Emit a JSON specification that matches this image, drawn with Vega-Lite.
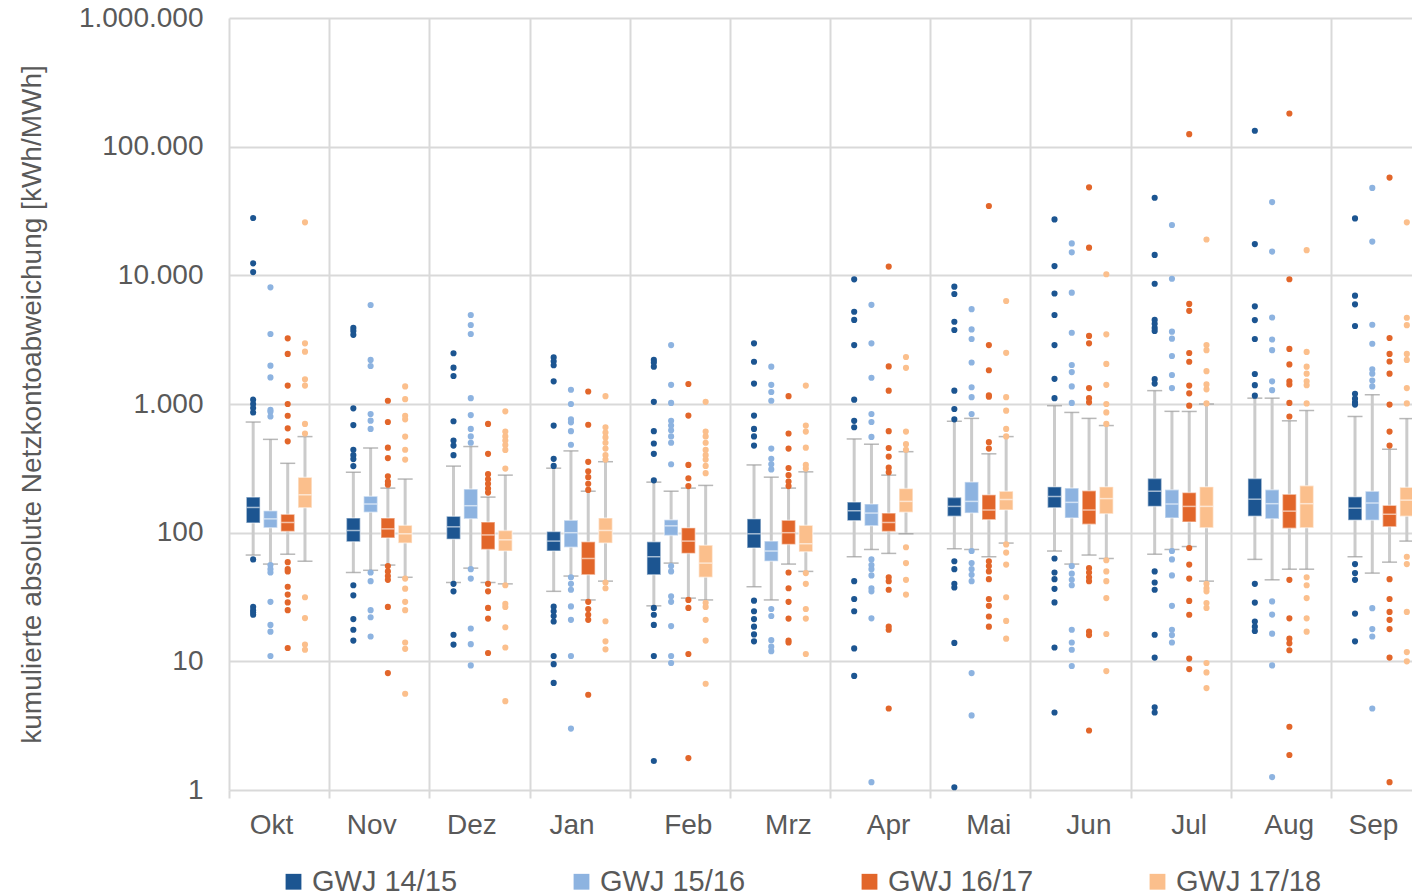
{
  "$schema": "https://vega.github.io/schema/vega-lite/v6.json",
  "autosize": {"type": "none"},
  "padding": {"left": 229, "top": 18, "right": 0, "bottom": 106},
  "width": 1183,
  "height": 772,
  "config": {"font": "Liberation Sans", "view": {"stroke": null}},
  "datasets": {
    "boxes": [
      {"Monat":"Okt","GWJ":"GWJ 14/15","lo":67,"q1":119,"med":157,"q3":189,"hi":724},
      {"Monat":"Okt","GWJ":"GWJ 15/16","lo":57,"q1":109,"med":128,"q3":148,"hi":531},
      {"Monat":"Okt","GWJ":"GWJ 16/17","lo":68,"q1":102,"med":120,"q3":139,"hi":346},
      {"Monat":"Okt","GWJ":"GWJ 17/18","lo":60,"q1":156,"med":197,"q3":269,"hi":558},
      {"Monat":"Nov","GWJ":"GWJ 14/15","lo":49,"q1":85,"med":104,"q3":130,"hi":295},
      {"Monat":"Nov","GWJ":"GWJ 15/16","lo":51,"q1":144,"med":167,"q3":192,"hi":455},
      {"Monat":"Nov","GWJ":"GWJ 16/17","lo":56,"q1":91,"med":107,"q3":130,"hi":222},
      {"Monat":"Nov","GWJ":"GWJ 17/18","lo":45,"q1":83,"med":98,"q3":114,"hi":261},
      {"Monat":"Dez","GWJ":"GWJ 14/15","lo":41,"q1":89,"med":111,"q3":134,"hi":329},
      {"Monat":"Dez","GWJ":"GWJ 15/16","lo":53,"q1":128,"med":162,"q3":218,"hi":467},
      {"Monat":"Dez","GWJ":"GWJ 16/17","lo":41,"q1":74,"med":96,"q3":121,"hi":189},
      {"Monat":"Dez","GWJ":"GWJ 17/18","lo":40,"q1":72,"med":88,"q3":104,"hi":280},
      {"Monat":"Jan","GWJ":"GWJ 14/15","lo":35,"q1":72,"med":86,"q3":102,"hi":317},
      {"Monat":"Jan","GWJ":"GWJ 15/16","lo":46,"q1":77,"med":100,"q3":125,"hi":432},
      {"Monat":"Jan","GWJ":"GWJ 16/17","lo":30,"q1":47,"med":63,"q3":85,"hi":210},
      {"Monat":"Jan","GWJ":"GWJ 17/18","lo":42,"q1":83,"med":104,"q3":130,"hi":356},
      {"Monat":"Feb","GWJ":"GWJ 14/15","lo":27,"q1":47,"med":65,"q3":85,"hi":247},
      {"Monat":"Feb","GWJ":"GWJ 15/16","lo":58,"q1":95,"med":113,"q3":126,"hi":210},
      {"Monat":"Feb","GWJ":"GWJ 16/17","lo":31,"q1":69,"med":86,"q3":109,"hi":222},
      {"Monat":"Feb","GWJ":"GWJ 17/18","lo":30,"q1":45,"med":58,"q3":80,"hi":233},
      {"Monat":"Mrz","GWJ":"GWJ 14/15","lo":38,"q1":76,"med":98,"q3":128,"hi":336},
      {"Monat":"Mrz","GWJ":"GWJ 15/16","lo":30,"q1":60,"med":72,"q3":86,"hi":270},
      {"Monat":"Mrz","GWJ":"GWJ 16/17","lo":57,"q1":81,"med":100,"q3":125,"hi":222},
      {"Monat":"Mrz","GWJ":"GWJ 17/18","lo":50,"q1":71,"med":82,"q3":114,"hi":297},
      {"Monat":"Apr","GWJ":"GWJ 14/15","lo":65,"q1":124,"med":148,"q3":173,"hi":535},
      {"Monat":"Apr","GWJ":"GWJ 15/16","lo":74,"q1":113,"med":142,"q3":167,"hi":487},
      {"Monat":"Apr","GWJ":"GWJ 16/17","lo":69,"q1":102,"med":120,"q3":142,"hi":280},
      {"Monat":"Apr","GWJ":"GWJ 17/18","lo":98,"q1":144,"med":175,"q3":220,"hi":426},
      {"Monat":"Mai","GWJ":"GWJ 14/15","lo":75,"q1":134,"med":160,"q3":188,"hi":734},
      {"Monat":"Mai","GWJ":"GWJ 15/16","lo":74,"q1":142,"med":175,"q3":248,"hi":773},
      {"Monat":"Mai","GWJ":"GWJ 16/17","lo":65,"q1":126,"med":150,"q3":197,"hi":410},
      {"Monat":"Mai","GWJ":"GWJ 17/18","lo":83,"q1":150,"med":181,"q3":210,"hi":558},
      {"Monat":"Jun","GWJ":"GWJ 14/15","lo":72,"q1":156,"med":191,"q3":227,"hi":970},
      {"Monat":"Jun","GWJ":"GWJ 15/16","lo":57,"q1":130,"med":172,"q3":222,"hi":860},
      {"Monat":"Jun","GWJ":"GWJ 16/17","lo":67,"q1":116,"med":150,"q3":212,"hi":773},
      {"Monat":"Jun","GWJ":"GWJ 17/18","lo":63,"q1":140,"med":184,"q3":227,"hi":680},
      {"Monat":"Jul","GWJ":"GWJ 14/15","lo":68,"q1":160,"med":210,"q3":264,"hi":1270},
      {"Monat":"Jul","GWJ":"GWJ 15/16","lo":74,"q1":130,"med":167,"q3":216,"hi":877},
      {"Monat":"Jul","GWJ":"GWJ 16/17","lo":78,"q1":121,"med":160,"q3":205,"hi":875},
      {"Monat":"Jul","GWJ":"GWJ 17/18","lo":42,"q1":109,"med":160,"q3":227,"hi":1000},
      {"Monat":"Aug","GWJ":"GWJ 14/15","lo":62,"q1":134,"med":182,"q3":264,"hi":1110},
      {"Monat":"Aug","GWJ":"GWJ 15/16","lo":43,"q1":128,"med":168,"q3":216,"hi":1110},
      {"Monat":"Aug","GWJ":"GWJ 16/17","lo":52,"q1":108,"med":147,"q3":199,"hi":740},
      {"Monat":"Aug","GWJ":"GWJ 17/18","lo":52,"q1":109,"med":168,"q3":232,"hi":890},
      {"Monat":"Sep","GWJ":"GWJ 14/15","lo":65,"q1":125,"med":155,"q3":190,"hi":800},
      {"Monat":"Sep","GWJ":"GWJ 15/16","lo":48.5,"q1":125,"med":170,"q3":210,"hi":1180},
      {"Monat":"Sep","GWJ":"GWJ 16/17","lo":59,"q1":111,"med":139,"q3":163,"hi":445},
      {"Monat":"Sep","GWJ":"GWJ 17/18","lo":86,"q1":134,"med":179,"q3":225,"hi":770}
    ],
    "outliers": [
      {"Monat":"Okt","GWJ":"GWJ 14/15","Wert":27900},{"Monat":"Okt","GWJ":"GWJ 14/15","Wert":12400},{"Monat":"Okt","GWJ":"GWJ 14/15","Wert":10600},{"Monat":"Okt","GWJ":"GWJ 14/15","Wert":1080},{"Monat":"Okt","GWJ":"GWJ 14/15","Wert":1000},{"Monat":"Okt","GWJ":"GWJ 14/15","Wert":930},{"Monat":"Okt","GWJ":"GWJ 14/15","Wert":860},{"Monat":"Okt","GWJ":"GWJ 14/15","Wert":62},{"Monat":"Okt","GWJ":"GWJ 14/15","Wert":26.5},{"Monat":"Okt","GWJ":"GWJ 14/15","Wert":25},{"Monat":"Okt","GWJ":"GWJ 14/15","Wert":24},{"Monat":"Okt","GWJ":"GWJ 14/15","Wert":23},
      {"Monat":"Okt","GWJ":"GWJ 15/16","Wert":8070},{"Monat":"Okt","GWJ":"GWJ 15/16","Wert":3500},{"Monat":"Okt","GWJ":"GWJ 15/16","Wert":1985},{"Monat":"Okt","GWJ":"GWJ 15/16","Wert":1610},{"Monat":"Okt","GWJ":"GWJ 15/16","Wert":900},{"Monat":"Okt","GWJ":"GWJ 15/16","Wert":870},{"Monat":"Okt","GWJ":"GWJ 15/16","Wert":800},{"Monat":"Okt","GWJ":"GWJ 15/16","Wert":56},{"Monat":"Okt","GWJ":"GWJ 15/16","Wert":52},{"Monat":"Okt","GWJ":"GWJ 15/16","Wert":49},{"Monat":"Okt","GWJ":"GWJ 15/16","Wert":29},{"Monat":"Okt","GWJ":"GWJ 15/16","Wert":19.2},{"Monat":"Okt","GWJ":"GWJ 15/16","Wert":17},{"Monat":"Okt","GWJ":"GWJ 15/16","Wert":11},
      {"Monat":"Okt","GWJ":"GWJ 16/17","Wert":3240},{"Monat":"Okt","GWJ":"GWJ 16/17","Wert":2450},{"Monat":"Okt","GWJ":"GWJ 16/17","Wert":1390},{"Monat":"Okt","GWJ":"GWJ 16/17","Wert":1000},{"Monat":"Okt","GWJ":"GWJ 16/17","Wert":810},{"Monat":"Okt","GWJ":"GWJ 16/17","Wert":647},{"Monat":"Okt","GWJ":"GWJ 16/17","Wert":513},{"Monat":"Okt","GWJ":"GWJ 16/17","Wert":59},{"Monat":"Okt","GWJ":"GWJ 16/17","Wert":52},{"Monat":"Okt","GWJ":"GWJ 16/17","Wert":50},{"Monat":"Okt","GWJ":"GWJ 16/17","Wert":38},{"Monat":"Okt","GWJ":"GWJ 16/17","Wert":33},{"Monat":"Okt","GWJ":"GWJ 16/17","Wert":28.7},{"Monat":"Okt","GWJ":"GWJ 16/17","Wert":25},{"Monat":"Okt","GWJ":"GWJ 16/17","Wert":12.7},
      {"Monat":"Okt","GWJ":"GWJ 17/18","Wert":25800},{"Monat":"Okt","GWJ":"GWJ 17/18","Wert":2960},{"Monat":"Okt","GWJ":"GWJ 17/18","Wert":2550},{"Monat":"Okt","GWJ":"GWJ 17/18","Wert":1555},{"Monat":"Okt","GWJ":"GWJ 17/18","Wert":1390},{"Monat":"Okt","GWJ":"GWJ 17/18","Wert":700},{"Monat":"Okt","GWJ":"GWJ 17/18","Wert":590},{"Monat":"Okt","GWJ":"GWJ 17/18","Wert":31.5},{"Monat":"Okt","GWJ":"GWJ 17/18","Wert":21.7},{"Monat":"Okt","GWJ":"GWJ 17/18","Wert":13.5},{"Monat":"Okt","GWJ":"GWJ 17/18","Wert":12.3},
      {"Monat":"Nov","GWJ":"GWJ 14/15","Wert":3900},{"Monat":"Nov","GWJ":"GWJ 14/15","Wert":3700},{"Monat":"Nov","GWJ":"GWJ 14/15","Wert":3450},{"Monat":"Nov","GWJ":"GWJ 14/15","Wert":926},{"Monat":"Nov","GWJ":"GWJ 14/15","Wert":686},{"Monat":"Nov","GWJ":"GWJ 14/15","Wert":441},{"Monat":"Nov","GWJ":"GWJ 14/15","Wert":400},{"Monat":"Nov","GWJ":"GWJ 14/15","Wert":373},{"Monat":"Nov","GWJ":"GWJ 14/15","Wert":329},{"Monat":"Nov","GWJ":"GWJ 14/15","Wert":39},{"Monat":"Nov","GWJ":"GWJ 14/15","Wert":32.6},{"Monat":"Nov","GWJ":"GWJ 14/15","Wert":21.3},{"Monat":"Nov","GWJ":"GWJ 14/15","Wert":17.6},{"Monat":"Nov","GWJ":"GWJ 14/15","Wert":14.5},
      {"Monat":"Nov","GWJ":"GWJ 15/16","Wert":5880},{"Monat":"Nov","GWJ":"GWJ 15/16","Wert":2200},{"Monat":"Nov","GWJ":"GWJ 15/16","Wert":1975},{"Monat":"Nov","GWJ":"GWJ 15/16","Wert":836},{"Monat":"Nov","GWJ":"GWJ 15/16","Wert":742},{"Monat":"Nov","GWJ":"GWJ 15/16","Wert":640},{"Monat":"Nov","GWJ":"GWJ 15/16","Wert":49},{"Monat":"Nov","GWJ":"GWJ 15/16","Wert":42},{"Monat":"Nov","GWJ":"GWJ 15/16","Wert":25},{"Monat":"Nov","GWJ":"GWJ 15/16","Wert":22},{"Monat":"Nov","GWJ":"GWJ 15/16","Wert":15.6},
      {"Monat":"Nov","GWJ":"GWJ 16/17","Wert":1060},{"Monat":"Nov","GWJ":"GWJ 16/17","Wert":725},{"Monat":"Nov","GWJ":"GWJ 16/17","Wert":458},{"Monat":"Nov","GWJ":"GWJ 16/17","Wert":380},{"Monat":"Nov","GWJ":"GWJ 16/17","Wert":274},{"Monat":"Nov","GWJ":"GWJ 16/17","Wert":250},{"Monat":"Nov","GWJ":"GWJ 16/17","Wert":236},{"Monat":"Nov","GWJ":"GWJ 16/17","Wert":55},{"Monat":"Nov","GWJ":"GWJ 16/17","Wert":50},{"Monat":"Nov","GWJ":"GWJ 16/17","Wert":46},{"Monat":"Nov","GWJ":"GWJ 16/17","Wert":43},{"Monat":"Nov","GWJ":"GWJ 16/17","Wert":26.5},{"Monat":"Nov","GWJ":"GWJ 16/17","Wert":8.1},
      {"Monat":"Nov","GWJ":"GWJ 17/18","Wert":1370},{"Monat":"Nov","GWJ":"GWJ 17/18","Wert":1090},{"Monat":"Nov","GWJ":"GWJ 17/18","Wert":810},{"Monat":"Nov","GWJ":"GWJ 17/18","Wert":760},{"Monat":"Nov","GWJ":"GWJ 17/18","Wert":558},{"Monat":"Nov","GWJ":"GWJ 17/18","Wert":441},{"Monat":"Nov","GWJ":"GWJ 17/18","Wert":370},{"Monat":"Nov","GWJ":"GWJ 17/18","Wert":44},{"Monat":"Nov","GWJ":"GWJ 17/18","Wert":36.7},{"Monat":"Nov","GWJ":"GWJ 17/18","Wert":29},{"Monat":"Nov","GWJ":"GWJ 17/18","Wert":25},{"Monat":"Nov","GWJ":"GWJ 17/18","Wert":14},{"Monat":"Nov","GWJ":"GWJ 17/18","Wert":12.5},{"Monat":"Nov","GWJ":"GWJ 17/18","Wert":5.6},
      {"Monat":"Dez","GWJ":"GWJ 14/15","Wert":2480},{"Monat":"Dez","GWJ":"GWJ 14/15","Wert":1915},{"Monat":"Dez","GWJ":"GWJ 14/15","Wert":1650},{"Monat":"Dez","GWJ":"GWJ 14/15","Wert":734},{"Monat":"Dez","GWJ":"GWJ 14/15","Wert":520},{"Monat":"Dez","GWJ":"GWJ 14/15","Wert":475},{"Monat":"Dez","GWJ":"GWJ 14/15","Wert":400},{"Monat":"Dez","GWJ":"GWJ 14/15","Wert":40},{"Monat":"Dez","GWJ":"GWJ 14/15","Wert":35},{"Monat":"Dez","GWJ":"GWJ 14/15","Wert":16.1},{"Monat":"Dez","GWJ":"GWJ 14/15","Wert":13.5},
      {"Monat":"Dez","GWJ":"GWJ 15/16","Wert":4920},{"Monat":"Dez","GWJ":"GWJ 15/16","Wert":4110},{"Monat":"Dez","GWJ":"GWJ 15/16","Wert":3500},{"Monat":"Dez","GWJ":"GWJ 15/16","Wert":1110},{"Monat":"Dez","GWJ":"GWJ 15/16","Wert":820},{"Monat":"Dez","GWJ":"GWJ 15/16","Wert":640},{"Monat":"Dez","GWJ":"GWJ 15/16","Wert":560},{"Monat":"Dez","GWJ":"GWJ 15/16","Wert":500},{"Monat":"Dez","GWJ":"GWJ 15/16","Wert":52},{"Monat":"Dez","GWJ":"GWJ 15/16","Wert":44},{"Monat":"Dez","GWJ":"GWJ 15/16","Wert":18},{"Monat":"Dez","GWJ":"GWJ 15/16","Wert":13.6},{"Monat":"Dez","GWJ":"GWJ 15/16","Wert":9.3},
      {"Monat":"Dez","GWJ":"GWJ 16/17","Wert":700},{"Monat":"Dez","GWJ":"GWJ 16/17","Wert":410},{"Monat":"Dez","GWJ":"GWJ 16/17","Wert":285},{"Monat":"Dez","GWJ":"GWJ 16/17","Wert":260},{"Monat":"Dez","GWJ":"GWJ 16/17","Wert":240},{"Monat":"Dez","GWJ":"GWJ 16/17","Wert":220},{"Monat":"Dez","GWJ":"GWJ 16/17","Wert":205},{"Monat":"Dez","GWJ":"GWJ 16/17","Wert":40},{"Monat":"Dez","GWJ":"GWJ 16/17","Wert":35},{"Monat":"Dez","GWJ":"GWJ 16/17","Wert":26},{"Monat":"Dez","GWJ":"GWJ 16/17","Wert":21.5},{"Monat":"Dez","GWJ":"GWJ 16/17","Wert":11.6},
      {"Monat":"Dez","GWJ":"GWJ 17/18","Wert":877},{"Monat":"Dez","GWJ":"GWJ 17/18","Wert":610},{"Monat":"Dez","GWJ":"GWJ 17/18","Wert":560},{"Monat":"Dez","GWJ":"GWJ 17/18","Wert":520},{"Monat":"Dez","GWJ":"GWJ 17/18","Wert":480},{"Monat":"Dez","GWJ":"GWJ 17/18","Wert":440},{"Monat":"Dez","GWJ":"GWJ 17/18","Wert":315},{"Monat":"Dez","GWJ":"GWJ 17/18","Wert":39},{"Monat":"Dez","GWJ":"GWJ 17/18","Wert":28},{"Monat":"Dez","GWJ":"GWJ 17/18","Wert":26.5},{"Monat":"Dez","GWJ":"GWJ 17/18","Wert":18.4},{"Monat":"Dez","GWJ":"GWJ 17/18","Wert":12.8},{"Monat":"Dez","GWJ":"GWJ 17/18","Wert":4.9},
      {"Monat":"Jan","GWJ":"GWJ 14/15","Wert":2300},{"Monat":"Jan","GWJ":"GWJ 14/15","Wert":2150},{"Monat":"Jan","GWJ":"GWJ 14/15","Wert":2000},{"Monat":"Jan","GWJ":"GWJ 14/15","Wert":1500},{"Monat":"Jan","GWJ":"GWJ 14/15","Wert":680},{"Monat":"Jan","GWJ":"GWJ 14/15","Wert":375},{"Monat":"Jan","GWJ":"GWJ 14/15","Wert":330},{"Monat":"Jan","GWJ":"GWJ 14/15","Wert":26.6},{"Monat":"Jan","GWJ":"GWJ 14/15","Wert":24.5},{"Monat":"Jan","GWJ":"GWJ 14/15","Wert":22.5},{"Monat":"Jan","GWJ":"GWJ 14/15","Wert":20.4},{"Monat":"Jan","GWJ":"GWJ 14/15","Wert":11},{"Monat":"Jan","GWJ":"GWJ 14/15","Wert":9.5},{"Monat":"Jan","GWJ":"GWJ 14/15","Wert":6.8},
      {"Monat":"Jan","GWJ":"GWJ 15/16","Wert":1290},{"Monat":"Jan","GWJ":"GWJ 15/16","Wert":1000},{"Monat":"Jan","GWJ":"GWJ 15/16","Wert":760},{"Monat":"Jan","GWJ":"GWJ 15/16","Wert":720},{"Monat":"Jan","GWJ":"GWJ 15/16","Wert":615},{"Monat":"Jan","GWJ":"GWJ 15/16","Wert":482},{"Monat":"Jan","GWJ":"GWJ 15/16","Wert":45},{"Monat":"Jan","GWJ":"GWJ 15/16","Wert":40},{"Monat":"Jan","GWJ":"GWJ 15/16","Wert":36},{"Monat":"Jan","GWJ":"GWJ 15/16","Wert":26.7},{"Monat":"Jan","GWJ":"GWJ 15/16","Wert":21},{"Monat":"Jan","GWJ":"GWJ 15/16","Wert":11},{"Monat":"Jan","GWJ":"GWJ 15/16","Wert":3},
      {"Monat":"Jan","GWJ":"GWJ 16/17","Wert":1250},{"Monat":"Jan","GWJ":"GWJ 16/17","Wert":690},{"Monat":"Jan","GWJ":"GWJ 16/17","Wert":355},{"Monat":"Jan","GWJ":"GWJ 16/17","Wert":300},{"Monat":"Jan","GWJ":"GWJ 16/17","Wert":270},{"Monat":"Jan","GWJ":"GWJ 16/17","Wert":240},{"Monat":"Jan","GWJ":"GWJ 16/17","Wert":215},{"Monat":"Jan","GWJ":"GWJ 16/17","Wert":29},{"Monat":"Jan","GWJ":"GWJ 16/17","Wert":25.5},{"Monat":"Jan","GWJ":"GWJ 16/17","Wert":23},{"Monat":"Jan","GWJ":"GWJ 16/17","Wert":21},{"Monat":"Jan","GWJ":"GWJ 16/17","Wert":5.5},
      {"Monat":"Jan","GWJ":"GWJ 17/18","Wert":1150},{"Monat":"Jan","GWJ":"GWJ 17/18","Wert":660},{"Monat":"Jan","GWJ":"GWJ 17/18","Wert":600},{"Monat":"Jan","GWJ":"GWJ 17/18","Wert":550},{"Monat":"Jan","GWJ":"GWJ 17/18","Wert":500},{"Monat":"Jan","GWJ":"GWJ 17/18","Wert":450},{"Monat":"Jan","GWJ":"GWJ 17/18","Wert":400},{"Monat":"Jan","GWJ":"GWJ 17/18","Wert":370},{"Monat":"Jan","GWJ":"GWJ 17/18","Wert":41},{"Monat":"Jan","GWJ":"GWJ 17/18","Wert":37},{"Monat":"Jan","GWJ":"GWJ 17/18","Wert":20.5},{"Monat":"Jan","GWJ":"GWJ 17/18","Wert":14.3},{"Monat":"Jan","GWJ":"GWJ 17/18","Wert":12.4},
      {"Monat":"Feb","GWJ":"GWJ 14/15","Wert":2200},{"Monat":"Feb","GWJ":"GWJ 14/15","Wert":2100},{"Monat":"Feb","GWJ":"GWJ 14/15","Wert":1950},{"Monat":"Feb","GWJ":"GWJ 14/15","Wert":1040},{"Monat":"Feb","GWJ":"GWJ 14/15","Wert":615},{"Monat":"Feb","GWJ":"GWJ 14/15","Wert":493},{"Monat":"Feb","GWJ":"GWJ 14/15","Wert":410},{"Monat":"Feb","GWJ":"GWJ 14/15","Wert":255},{"Monat":"Feb","GWJ":"GWJ 14/15","Wert":26},{"Monat":"Feb","GWJ":"GWJ 14/15","Wert":23},{"Monat":"Feb","GWJ":"GWJ 14/15","Wert":19.2},{"Monat":"Feb","GWJ":"GWJ 14/15","Wert":11},{"Monat":"Feb","GWJ":"GWJ 14/15","Wert":1.68},
      {"Monat":"Feb","GWJ":"GWJ 15/16","Wert":2870},{"Monat":"Feb","GWJ":"GWJ 15/16","Wert":1410},{"Monat":"Feb","GWJ":"GWJ 15/16","Wert":1020},{"Monat":"Feb","GWJ":"GWJ 15/16","Wert":741},{"Monat":"Feb","GWJ":"GWJ 15/16","Wert":680},{"Monat":"Feb","GWJ":"GWJ 15/16","Wert":625},{"Monat":"Feb","GWJ":"GWJ 15/16","Wert":560},{"Monat":"Feb","GWJ":"GWJ 15/16","Wert":500},{"Monat":"Feb","GWJ":"GWJ 15/16","Wert":340},{"Monat":"Feb","GWJ":"GWJ 15/16","Wert":55},{"Monat":"Feb","GWJ":"GWJ 15/16","Wert":50},{"Monat":"Feb","GWJ":"GWJ 15/16","Wert":32},{"Monat":"Feb","GWJ":"GWJ 15/16","Wert":29},{"Monat":"Feb","GWJ":"GWJ 15/16","Wert":18.8},{"Monat":"Feb","GWJ":"GWJ 15/16","Wert":11},{"Monat":"Feb","GWJ":"GWJ 15/16","Wert":9.7},
      {"Monat":"Feb","GWJ":"GWJ 16/17","Wert":1430},{"Monat":"Feb","GWJ":"GWJ 16/17","Wert":813},{"Monat":"Feb","GWJ":"GWJ 16/17","Wert":336},{"Monat":"Feb","GWJ":"GWJ 16/17","Wert":265},{"Monat":"Feb","GWJ":"GWJ 16/17","Wert":230},{"Monat":"Feb","GWJ":"GWJ 16/17","Wert":30},{"Monat":"Feb","GWJ":"GWJ 16/17","Wert":26},{"Monat":"Feb","GWJ":"GWJ 16/17","Wert":11.4},{"Monat":"Feb","GWJ":"GWJ 16/17","Wert":1.77},
      {"Monat":"Feb","GWJ":"GWJ 17/18","Wert":1040},{"Monat":"Feb","GWJ":"GWJ 17/18","Wert":610},{"Monat":"Feb","GWJ":"GWJ 17/18","Wert":560},{"Monat":"Feb","GWJ":"GWJ 17/18","Wert":500},{"Monat":"Feb","GWJ":"GWJ 17/18","Wert":440},{"Monat":"Feb","GWJ":"GWJ 17/18","Wert":400},{"Monat":"Feb","GWJ":"GWJ 17/18","Wert":370},{"Monat":"Feb","GWJ":"GWJ 17/18","Wert":330},{"Monat":"Feb","GWJ":"GWJ 17/18","Wert":290},{"Monat":"Feb","GWJ":"GWJ 17/18","Wert":28.5},{"Monat":"Feb","GWJ":"GWJ 17/18","Wert":26.5},{"Monat":"Feb","GWJ":"GWJ 17/18","Wert":21},{"Monat":"Feb","GWJ":"GWJ 17/18","Wert":14.5},{"Monat":"Feb","GWJ":"GWJ 17/18","Wert":6.7},
      {"Monat":"Mrz","GWJ":"GWJ 14/15","Wert":2960},{"Monat":"Mrz","GWJ":"GWJ 14/15","Wert":2130},{"Monat":"Mrz","GWJ":"GWJ 14/15","Wert":1440},{"Monat":"Mrz","GWJ":"GWJ 14/15","Wert":813},{"Monat":"Mrz","GWJ":"GWJ 14/15","Wert":640},{"Monat":"Mrz","GWJ":"GWJ 14/15","Wert":560},{"Monat":"Mrz","GWJ":"GWJ 14/15","Wert":475},{"Monat":"Mrz","GWJ":"GWJ 14/15","Wert":29.6},{"Monat":"Mrz","GWJ":"GWJ 14/15","Wert":24.5},{"Monat":"Mrz","GWJ":"GWJ 14/15","Wert":21.3},{"Monat":"Mrz","GWJ":"GWJ 14/15","Wert":18.6},{"Monat":"Mrz","GWJ":"GWJ 14/15","Wert":16.2},{"Monat":"Mrz","GWJ":"GWJ 14/15","Wert":14.3},
      {"Monat":"Mrz","GWJ":"GWJ 15/16","Wert":1950},{"Monat":"Mrz","GWJ":"GWJ 15/16","Wert":1410},{"Monat":"Mrz","GWJ":"GWJ 15/16","Wert":1240},{"Monat":"Mrz","GWJ":"GWJ 15/16","Wert":1060},{"Monat":"Mrz","GWJ":"GWJ 15/16","Wert":450},{"Monat":"Mrz","GWJ":"GWJ 15/16","Wert":375},{"Monat":"Mrz","GWJ":"GWJ 15/16","Wert":340},{"Monat":"Mrz","GWJ":"GWJ 15/16","Wert":310},{"Monat":"Mrz","GWJ":"GWJ 15/16","Wert":25.5},{"Monat":"Mrz","GWJ":"GWJ 15/16","Wert":22.5},{"Monat":"Mrz","GWJ":"GWJ 15/16","Wert":14.6},{"Monat":"Mrz","GWJ":"GWJ 15/16","Wert":13},{"Monat":"Mrz","GWJ":"GWJ 15/16","Wert":12},
      {"Monat":"Mrz","GWJ":"GWJ 16/17","Wert":1150},{"Monat":"Mrz","GWJ":"GWJ 16/17","Wert":590},{"Monat":"Mrz","GWJ":"GWJ 16/17","Wert":450},{"Monat":"Mrz","GWJ":"GWJ 16/17","Wert":318},{"Monat":"Mrz","GWJ":"GWJ 16/17","Wert":280},{"Monat":"Mrz","GWJ":"GWJ 16/17","Wert":250},{"Monat":"Mrz","GWJ":"GWJ 16/17","Wert":230},{"Monat":"Mrz","GWJ":"GWJ 16/17","Wert":49},{"Monat":"Mrz","GWJ":"GWJ 16/17","Wert":37},{"Monat":"Mrz","GWJ":"GWJ 16/17","Wert":29},{"Monat":"Mrz","GWJ":"GWJ 16/17","Wert":21.5},{"Monat":"Mrz","GWJ":"GWJ 16/17","Wert":14.5},{"Monat":"Mrz","GWJ":"GWJ 16/17","Wert":14},
      {"Monat":"Mrz","GWJ":"GWJ 17/18","Wert":1390},{"Monat":"Mrz","GWJ":"GWJ 17/18","Wert":680},{"Monat":"Mrz","GWJ":"GWJ 17/18","Wert":610},{"Monat":"Mrz","GWJ":"GWJ 17/18","Wert":458},{"Monat":"Mrz","GWJ":"GWJ 17/18","Wert":336},{"Monat":"Mrz","GWJ":"GWJ 17/18","Wert":315},{"Monat":"Mrz","GWJ":"GWJ 17/18","Wert":48.5},{"Monat":"Mrz","GWJ":"GWJ 17/18","Wert":40},{"Monat":"Mrz","GWJ":"GWJ 17/18","Wert":25.5},{"Monat":"Mrz","GWJ":"GWJ 17/18","Wert":21.5},{"Monat":"Mrz","GWJ":"GWJ 17/18","Wert":11.4},
      {"Monat":"Apr","GWJ":"GWJ 14/15","Wert":9310},{"Monat":"Apr","GWJ":"GWJ 14/15","Wert":5210},{"Monat":"Apr","GWJ":"GWJ 14/15","Wert":4500},{"Monat":"Apr","GWJ":"GWJ 14/15","Wert":2870},{"Monat":"Apr","GWJ":"GWJ 14/15","Wert":1080},{"Monat":"Apr","GWJ":"GWJ 14/15","Wert":740},{"Monat":"Apr","GWJ":"GWJ 14/15","Wert":660},{"Monat":"Apr","GWJ":"GWJ 14/15","Wert":42},{"Monat":"Apr","GWJ":"GWJ 14/15","Wert":30.5},{"Monat":"Apr","GWJ":"GWJ 14/15","Wert":24.5},{"Monat":"Apr","GWJ":"GWJ 14/15","Wert":12.6},{"Monat":"Apr","GWJ":"GWJ 14/15","Wert":7.7},
      {"Monat":"Apr","GWJ":"GWJ 15/16","Wert":5900},{"Monat":"Apr","GWJ":"GWJ 15/16","Wert":2960},{"Monat":"Apr","GWJ":"GWJ 15/16","Wert":1600},{"Monat":"Apr","GWJ":"GWJ 15/16","Wert":836},{"Monat":"Apr","GWJ":"GWJ 15/16","Wert":725},{"Monat":"Apr","GWJ":"GWJ 15/16","Wert":555},{"Monat":"Apr","GWJ":"GWJ 15/16","Wert":62},{"Monat":"Apr","GWJ":"GWJ 15/16","Wert":56},{"Monat":"Apr","GWJ":"GWJ 15/16","Wert":52},{"Monat":"Apr","GWJ":"GWJ 15/16","Wert":46.5},{"Monat":"Apr","GWJ":"GWJ 15/16","Wert":37},{"Monat":"Apr","GWJ":"GWJ 15/16","Wert":35},{"Monat":"Apr","GWJ":"GWJ 15/16","Wert":21.6},{"Monat":"Apr","GWJ":"GWJ 15/16","Wert":1.15},
      {"Monat":"Apr","GWJ":"GWJ 16/17","Wert":11700},{"Monat":"Apr","GWJ":"GWJ 16/17","Wert":1960},{"Monat":"Apr","GWJ":"GWJ 16/17","Wert":1270},{"Monat":"Apr","GWJ":"GWJ 16/17","Wert":615},{"Monat":"Apr","GWJ":"GWJ 16/17","Wert":455},{"Monat":"Apr","GWJ":"GWJ 16/17","Wert":390},{"Monat":"Apr","GWJ":"GWJ 16/17","Wert":320},{"Monat":"Apr","GWJ":"GWJ 16/17","Wert":295},{"Monat":"Apr","GWJ":"GWJ 16/17","Wert":45},{"Monat":"Apr","GWJ":"GWJ 16/17","Wert":42},{"Monat":"Apr","GWJ":"GWJ 16/17","Wert":36},{"Monat":"Apr","GWJ":"GWJ 16/17","Wert":18.6},{"Monat":"Apr","GWJ":"GWJ 16/17","Wert":17.6},{"Monat":"Apr","GWJ":"GWJ 16/17","Wert":4.3},
      {"Monat":"Apr","GWJ":"GWJ 17/18","Wert":2320},{"Monat":"Apr","GWJ":"GWJ 17/18","Wert":1910},{"Monat":"Apr","GWJ":"GWJ 17/18","Wert":610},{"Monat":"Apr","GWJ":"GWJ 17/18","Wert":487},{"Monat":"Apr","GWJ":"GWJ 17/18","Wert":441},{"Monat":"Apr","GWJ":"GWJ 17/18","Wert":77},{"Monat":"Apr","GWJ":"GWJ 17/18","Wert":58},{"Monat":"Apr","GWJ":"GWJ 17/18","Wert":43},{"Monat":"Apr","GWJ":"GWJ 17/18","Wert":33},
      {"Monat":"Mai","GWJ":"GWJ 14/15","Wert":8170},{"Monat":"Mai","GWJ":"GWJ 14/15","Wert":7160},{"Monat":"Mai","GWJ":"GWJ 14/15","Wert":4360},{"Monat":"Mai","GWJ":"GWJ 14/15","Wert":3760},{"Monat":"Mai","GWJ":"GWJ 14/15","Wert":1270},{"Monat":"Mai","GWJ":"GWJ 14/15","Wert":915},{"Monat":"Mai","GWJ":"GWJ 14/15","Wert":760},{"Monat":"Mai","GWJ":"GWJ 14/15","Wert":60},{"Monat":"Mai","GWJ":"GWJ 14/15","Wert":52},{"Monat":"Mai","GWJ":"GWJ 14/15","Wert":40},{"Monat":"Mai","GWJ":"GWJ 14/15","Wert":37.5},{"Monat":"Mai","GWJ":"GWJ 14/15","Wert":13.9},{"Monat":"Mai","GWJ":"GWJ 14/15","Wert":1.05},
      {"Monat":"Mai","GWJ":"GWJ 15/16","Wert":5460},{"Monat":"Mai","GWJ":"GWJ 15/16","Wert":3800},{"Monat":"Mai","GWJ":"GWJ 15/16","Wert":3200},{"Monat":"Mai","GWJ":"GWJ 15/16","Wert":2100},{"Monat":"Mai","GWJ":"GWJ 15/16","Wert":1350},{"Monat":"Mai","GWJ":"GWJ 15/16","Wert":1130},{"Monat":"Mai","GWJ":"GWJ 15/16","Wert":836},{"Monat":"Mai","GWJ":"GWJ 15/16","Wert":72},{"Monat":"Mai","GWJ":"GWJ 15/16","Wert":58},{"Monat":"Mai","GWJ":"GWJ 15/16","Wert":52},{"Monat":"Mai","GWJ":"GWJ 15/16","Wert":47},{"Monat":"Mai","GWJ":"GWJ 15/16","Wert":42},{"Monat":"Mai","GWJ":"GWJ 15/16","Wert":8.1},{"Monat":"Mai","GWJ":"GWJ 15/16","Wert":3.8},
      {"Monat":"Mai","GWJ":"GWJ 16/17","Wert":34600},{"Monat":"Mai","GWJ":"GWJ 16/17","Wert":2870},{"Monat":"Mai","GWJ":"GWJ 16/17","Wert":1830},{"Monat":"Mai","GWJ":"GWJ 16/17","Wert":1170},{"Monat":"Mai","GWJ":"GWJ 16/17","Wert":1140},{"Monat":"Mai","GWJ":"GWJ 16/17","Wert":505},{"Monat":"Mai","GWJ":"GWJ 16/17","Wert":450},{"Monat":"Mai","GWJ":"GWJ 16/17","Wert":60},{"Monat":"Mai","GWJ":"GWJ 16/17","Wert":55},{"Monat":"Mai","GWJ":"GWJ 16/17","Wert":50},{"Monat":"Mai","GWJ":"GWJ 16/17","Wert":43.5},{"Monat":"Mai","GWJ":"GWJ 16/17","Wert":30.5},{"Monat":"Mai","GWJ":"GWJ 16/17","Wert":27},{"Monat":"Mai","GWJ":"GWJ 16/17","Wert":22.3},{"Monat":"Mai","GWJ":"GWJ 16/17","Wert":18.6},
      {"Monat":"Mai","GWJ":"GWJ 17/18","Wert":6320},{"Monat":"Mai","GWJ":"GWJ 17/18","Wert":2500},{"Monat":"Mai","GWJ":"GWJ 17/18","Wert":1130},{"Monat":"Mai","GWJ":"GWJ 17/18","Wert":887},{"Monat":"Mai","GWJ":"GWJ 17/18","Wert":640},{"Monat":"Mai","GWJ":"GWJ 17/18","Wert":560},{"Monat":"Mai","GWJ":"GWJ 17/18","Wert":81},{"Monat":"Mai","GWJ":"GWJ 17/18","Wert":70},{"Monat":"Mai","GWJ":"GWJ 17/18","Wert":56.5},{"Monat":"Mai","GWJ":"GWJ 17/18","Wert":31.5},{"Monat":"Mai","GWJ":"GWJ 17/18","Wert":20.6},{"Monat":"Mai","GWJ":"GWJ 17/18","Wert":15},
      {"Monat":"Jun","GWJ":"GWJ 14/15","Wert":27200},{"Monat":"Jun","GWJ":"GWJ 14/15","Wert":11800},{"Monat":"Jun","GWJ":"GWJ 14/15","Wert":7220},{"Monat":"Jun","GWJ":"GWJ 14/15","Wert":4920},{"Monat":"Jun","GWJ":"GWJ 14/15","Wert":2870},{"Monat":"Jun","GWJ":"GWJ 14/15","Wert":1570},{"Monat":"Jun","GWJ":"GWJ 14/15","Wert":1110},{"Monat":"Jun","GWJ":"GWJ 14/15","Wert":63},{"Monat":"Jun","GWJ":"GWJ 14/15","Wert":49},{"Monat":"Jun","GWJ":"GWJ 14/15","Wert":43.5},{"Monat":"Jun","GWJ":"GWJ 14/15","Wert":36.6},{"Monat":"Jun","GWJ":"GWJ 14/15","Wert":28.7},{"Monat":"Jun","GWJ":"GWJ 14/15","Wert":12.8},{"Monat":"Jun","GWJ":"GWJ 14/15","Wert":4},
      {"Monat":"Jun","GWJ":"GWJ 15/16","Wert":17700},{"Monat":"Jun","GWJ":"GWJ 15/16","Wert":15100},{"Monat":"Jun","GWJ":"GWJ 15/16","Wert":7330},{"Monat":"Jun","GWJ":"GWJ 15/16","Wert":3580},{"Monat":"Jun","GWJ":"GWJ 15/16","Wert":2010},{"Monat":"Jun","GWJ":"GWJ 15/16","Wert":1770},{"Monat":"Jun","GWJ":"GWJ 15/16","Wert":1370},{"Monat":"Jun","GWJ":"GWJ 15/16","Wert":1020},{"Monat":"Jun","GWJ":"GWJ 15/16","Wert":55},{"Monat":"Jun","GWJ":"GWJ 15/16","Wert":48},{"Monat":"Jun","GWJ":"GWJ 15/16","Wert":43},{"Monat":"Jun","GWJ":"GWJ 15/16","Wert":39},{"Monat":"Jun","GWJ":"GWJ 15/16","Wert":17.6},{"Monat":"Jun","GWJ":"GWJ 15/16","Wert":14},{"Monat":"Jun","GWJ":"GWJ 15/16","Wert":12.3},{"Monat":"Jun","GWJ":"GWJ 15/16","Wert":9.2},
      {"Monat":"Jun","GWJ":"GWJ 16/17","Wert":48300},{"Monat":"Jun","GWJ":"GWJ 16/17","Wert":16400},{"Monat":"Jun","GWJ":"GWJ 16/17","Wert":3380},{"Monat":"Jun","GWJ":"GWJ 16/17","Wert":2960},{"Monat":"Jun","GWJ":"GWJ 16/17","Wert":1330},{"Monat":"Jun","GWJ":"GWJ 16/17","Wert":1110},{"Monat":"Jun","GWJ":"GWJ 16/17","Wert":1030},{"Monat":"Jun","GWJ":"GWJ 16/17","Wert":53},{"Monat":"Jun","GWJ":"GWJ 16/17","Wert":49},{"Monat":"Jun","GWJ":"GWJ 16/17","Wert":45},{"Monat":"Jun","GWJ":"GWJ 16/17","Wert":42},{"Monat":"Jun","GWJ":"GWJ 16/17","Wert":17},{"Monat":"Jun","GWJ":"GWJ 16/17","Wert":16},{"Monat":"Jun","GWJ":"GWJ 16/17","Wert":2.9},
      {"Monat":"Jun","GWJ":"GWJ 17/18","Wert":10200},{"Monat":"Jun","GWJ":"GWJ 17/18","Wert":3480},{"Monat":"Jun","GWJ":"GWJ 17/18","Wert":2050},{"Monat":"Jun","GWJ":"GWJ 17/18","Wert":1410},{"Monat":"Jun","GWJ":"GWJ 17/18","Wert":1000},{"Monat":"Jun","GWJ":"GWJ 17/18","Wert":860},{"Monat":"Jun","GWJ":"GWJ 17/18","Wert":700},{"Monat":"Jun","GWJ":"GWJ 17/18","Wert":61},{"Monat":"Jun","GWJ":"GWJ 17/18","Wert":50},{"Monat":"Jun","GWJ":"GWJ 17/18","Wert":42},{"Monat":"Jun","GWJ":"GWJ 17/18","Wert":31},{"Monat":"Jun","GWJ":"GWJ 17/18","Wert":16.3},{"Monat":"Jun","GWJ":"GWJ 17/18","Wert":8.4},
      {"Monat":"Jul","GWJ":"GWJ 14/15","Wert":40100},{"Monat":"Jul","GWJ":"GWJ 14/15","Wert":14400},{"Monat":"Jul","GWJ":"GWJ 14/15","Wert":8600},{"Monat":"Jul","GWJ":"GWJ 14/15","Wert":4500},{"Monat":"Jul","GWJ":"GWJ 14/15","Wert":4200},{"Monat":"Jul","GWJ":"GWJ 14/15","Wert":3900},{"Monat":"Jul","GWJ":"GWJ 14/15","Wert":3700},{"Monat":"Jul","GWJ":"GWJ 14/15","Wert":1560},{"Monat":"Jul","GWJ":"GWJ 14/15","Wert":1440},{"Monat":"Jul","GWJ":"GWJ 14/15","Wert":50},{"Monat":"Jul","GWJ":"GWJ 14/15","Wert":41},{"Monat":"Jul","GWJ":"GWJ 14/15","Wert":36},{"Monat":"Jul","GWJ":"GWJ 14/15","Wert":16.1},{"Monat":"Jul","GWJ":"GWJ 14/15","Wert":10.7},{"Monat":"Jul","GWJ":"GWJ 14/15","Wert":4.4},{"Monat":"Jul","GWJ":"GWJ 14/15","Wert":4},
      {"Monat":"Jul","GWJ":"GWJ 15/16","Wert":24600},{"Monat":"Jul","GWJ":"GWJ 15/16","Wert":9400},{"Monat":"Jul","GWJ":"GWJ 15/16","Wert":3650},{"Monat":"Jul","GWJ":"GWJ 15/16","Wert":3220},{"Monat":"Jul","GWJ":"GWJ 15/16","Wert":2360},{"Monat":"Jul","GWJ":"GWJ 15/16","Wert":1680},{"Monat":"Jul","GWJ":"GWJ 15/16","Wert":1330},{"Monat":"Jul","GWJ":"GWJ 15/16","Wert":72},{"Monat":"Jul","GWJ":"GWJ 15/16","Wert":62},{"Monat":"Jul","GWJ":"GWJ 15/16","Wert":46.5},{"Monat":"Jul","GWJ":"GWJ 15/16","Wert":27},{"Monat":"Jul","GWJ":"GWJ 15/16","Wert":17.6},{"Monat":"Jul","GWJ":"GWJ 15/16","Wert":16},{"Monat":"Jul","GWJ":"GWJ 15/16","Wert":14},
      {"Monat":"Jul","GWJ":"GWJ 16/17","Wert":125000},{"Monat":"Jul","GWJ":"GWJ 16/17","Wert":6000},{"Monat":"Jul","GWJ":"GWJ 16/17","Wert":5300},{"Monat":"Jul","GWJ":"GWJ 16/17","Wert":2490},{"Monat":"Jul","GWJ":"GWJ 16/17","Wert":2130},{"Monat":"Jul","GWJ":"GWJ 16/17","Wert":1390},{"Monat":"Jul","GWJ":"GWJ 16/17","Wert":1210},{"Monat":"Jul","GWJ":"GWJ 16/17","Wert":970},{"Monat":"Jul","GWJ":"GWJ 16/17","Wert":76},{"Monat":"Jul","GWJ":"GWJ 16/17","Wert":56.5},{"Monat":"Jul","GWJ":"GWJ 16/17","Wert":44},{"Monat":"Jul","GWJ":"GWJ 16/17","Wert":29.5},{"Monat":"Jul","GWJ":"GWJ 16/17","Wert":23},{"Monat":"Jul","GWJ":"GWJ 16/17","Wert":10.5},{"Monat":"Jul","GWJ":"GWJ 16/17","Wert":8.7},
      {"Monat":"Jul","GWJ":"GWJ 17/18","Wert":19000},{"Monat":"Jul","GWJ":"GWJ 17/18","Wert":2870},{"Monat":"Jul","GWJ":"GWJ 17/18","Wert":2620},{"Monat":"Jul","GWJ":"GWJ 17/18","Wert":1800},{"Monat":"Jul","GWJ":"GWJ 17/18","Wert":1420},{"Monat":"Jul","GWJ":"GWJ 17/18","Wert":1300},{"Monat":"Jul","GWJ":"GWJ 17/18","Wert":1010},{"Monat":"Jul","GWJ":"GWJ 17/18","Wert":40},{"Monat":"Jul","GWJ":"GWJ 17/18","Wert":37},{"Monat":"Jul","GWJ":"GWJ 17/18","Wert":35},{"Monat":"Jul","GWJ":"GWJ 17/18","Wert":28.4},{"Monat":"Jul","GWJ":"GWJ 17/18","Wert":26},{"Monat":"Jul","GWJ":"GWJ 17/18","Wert":9.7},{"Monat":"Jul","GWJ":"GWJ 17/18","Wert":8.2},{"Monat":"Jul","GWJ":"GWJ 17/18","Wert":6.2},
      {"Monat":"Aug","GWJ":"GWJ 14/15","Wert":133000},{"Monat":"Aug","GWJ":"GWJ 14/15","Wert":17500},{"Monat":"Aug","GWJ":"GWJ 14/15","Wert":5740},{"Monat":"Aug","GWJ":"GWJ 14/15","Wert":4490},{"Monat":"Aug","GWJ":"GWJ 14/15","Wert":3200},{"Monat":"Aug","GWJ":"GWJ 14/15","Wert":1710},{"Monat":"Aug","GWJ":"GWJ 14/15","Wert":1400},{"Monat":"Aug","GWJ":"GWJ 14/15","Wert":1160},{"Monat":"Aug","GWJ":"GWJ 14/15","Wert":40},{"Monat":"Aug","GWJ":"GWJ 14/15","Wert":28.6},{"Monat":"Aug","GWJ":"GWJ 14/15","Wert":20.4},{"Monat":"Aug","GWJ":"GWJ 14/15","Wert":18.6},{"Monat":"Aug","GWJ":"GWJ 14/15","Wert":17.2},
      {"Monat":"Aug","GWJ":"GWJ 15/16","Wert":37100},{"Monat":"Aug","GWJ":"GWJ 15/16","Wert":15300},{"Monat":"Aug","GWJ":"GWJ 15/16","Wert":4700},{"Monat":"Aug","GWJ":"GWJ 15/16","Wert":3170},{"Monat":"Aug","GWJ":"GWJ 15/16","Wert":2620},{"Monat":"Aug","GWJ":"GWJ 15/16","Wert":1500},{"Monat":"Aug","GWJ":"GWJ 15/16","Wert":1280},{"Monat":"Aug","GWJ":"GWJ 15/16","Wert":29.2},{"Monat":"Aug","GWJ":"GWJ 15/16","Wert":23.1},{"Monat":"Aug","GWJ":"GWJ 15/16","Wert":16.4},{"Monat":"Aug","GWJ":"GWJ 15/16","Wert":9.3},{"Monat":"Aug","GWJ":"GWJ 15/16","Wert":1.26},
      {"Monat":"Aug","GWJ":"GWJ 16/17","Wert":181000},{"Monat":"Aug","GWJ":"GWJ 16/17","Wert":9330},{"Monat":"Aug","GWJ":"GWJ 16/17","Wert":2680},{"Monat":"Aug","GWJ":"GWJ 16/17","Wert":2030},{"Monat":"Aug","GWJ":"GWJ 16/17","Wert":1500},{"Monat":"Aug","GWJ":"GWJ 16/17","Wert":1420},{"Monat":"Aug","GWJ":"GWJ 16/17","Wert":1020},{"Monat":"Aug","GWJ":"GWJ 16/17","Wert":800},{"Monat":"Aug","GWJ":"GWJ 16/17","Wert":43},{"Monat":"Aug","GWJ":"GWJ 16/17","Wert":21.6},{"Monat":"Aug","GWJ":"GWJ 16/17","Wert":15},{"Monat":"Aug","GWJ":"GWJ 16/17","Wert":13.8},{"Monat":"Aug","GWJ":"GWJ 16/17","Wert":12.2},{"Monat":"Aug","GWJ":"GWJ 16/17","Wert":3.1},{"Monat":"Aug","GWJ":"GWJ 16/17","Wert":1.87},
      {"Monat":"Aug","GWJ":"GWJ 17/18","Wert":15700},{"Monat":"Aug","GWJ":"GWJ 17/18","Wert":2540},{"Monat":"Aug","GWJ":"GWJ 17/18","Wert":1950},{"Monat":"Aug","GWJ":"GWJ 17/18","Wert":1720},{"Monat":"Aug","GWJ":"GWJ 17/18","Wert":1500},{"Monat":"Aug","GWJ":"GWJ 17/18","Wert":1400},{"Monat":"Aug","GWJ":"GWJ 17/18","Wert":1010},{"Monat":"Aug","GWJ":"GWJ 17/18","Wert":45},{"Monat":"Aug","GWJ":"GWJ 17/18","Wert":39},{"Monat":"Aug","GWJ":"GWJ 17/18","Wert":31},{"Monat":"Aug","GWJ":"GWJ 17/18","Wert":21.6},{"Monat":"Aug","GWJ":"GWJ 17/18","Wert":17},
      {"Monat":"Sep","GWJ":"GWJ 14/15","Wert":27700},{"Monat":"Sep","GWJ":"GWJ 14/15","Wert":6950},{"Monat":"Sep","GWJ":"GWJ 14/15","Wert":5950},{"Monat":"Sep","GWJ":"GWJ 14/15","Wert":4040},{"Monat":"Sep","GWJ":"GWJ 14/15","Wert":1200},{"Monat":"Sep","GWJ":"GWJ 14/15","Wert":1100},{"Monat":"Sep","GWJ":"GWJ 14/15","Wert":1030},{"Monat":"Sep","GWJ":"GWJ 14/15","Wert":990},{"Monat":"Sep","GWJ":"GWJ 14/15","Wert":57},{"Monat":"Sep","GWJ":"GWJ 14/15","Wert":48.5},{"Monat":"Sep","GWJ":"GWJ 14/15","Wert":43},{"Monat":"Sep","GWJ":"GWJ 14/15","Wert":23.5},{"Monat":"Sep","GWJ":"GWJ 14/15","Wert":14.3},
      {"Monat":"Sep","GWJ":"GWJ 15/16","Wert":47800},{"Monat":"Sep","GWJ":"GWJ 15/16","Wert":18300},{"Monat":"Sep","GWJ":"GWJ 15/16","Wert":4130},{"Monat":"Sep","GWJ":"GWJ 15/16","Wert":2940},{"Monat":"Sep","GWJ":"GWJ 15/16","Wert":1860},{"Monat":"Sep","GWJ":"GWJ 15/16","Wert":1720},{"Monat":"Sep","GWJ":"GWJ 15/16","Wert":1520},{"Monat":"Sep","GWJ":"GWJ 15/16","Wert":1370},{"Monat":"Sep","GWJ":"GWJ 15/16","Wert":25.9},{"Monat":"Sep","GWJ":"GWJ 15/16","Wert":17.8},{"Monat":"Sep","GWJ":"GWJ 15/16","Wert":15.6},{"Monat":"Sep","GWJ":"GWJ 15/16","Wert":4.3},
      {"Monat":"Sep","GWJ":"GWJ 16/17","Wert":57500},{"Monat":"Sep","GWJ":"GWJ 16/17","Wert":3260},{"Monat":"Sep","GWJ":"GWJ 16/17","Wert":2450},{"Monat":"Sep","GWJ":"GWJ 16/17","Wert":2140},{"Monat":"Sep","GWJ":"GWJ 16/17","Wert":1720},{"Monat":"Sep","GWJ":"GWJ 16/17","Wert":990},{"Monat":"Sep","GWJ":"GWJ 16/17","Wert":610},{"Monat":"Sep","GWJ":"GWJ 16/17","Wert":475},{"Monat":"Sep","GWJ":"GWJ 16/17","Wert":43.5},{"Monat":"Sep","GWJ":"GWJ 16/17","Wert":30.5},{"Monat":"Sep","GWJ":"GWJ 16/17","Wert":24.2},{"Monat":"Sep","GWJ":"GWJ 16/17","Wert":21},{"Monat":"Sep","GWJ":"GWJ 16/17","Wert":17.8},{"Monat":"Sep","GWJ":"GWJ 16/17","Wert":10.7},{"Monat":"Sep","GWJ":"GWJ 16/17","Wert":1.15},
      {"Monat":"Sep","GWJ":"GWJ 17/18","Wert":25800},{"Monat":"Sep","GWJ":"GWJ 17/18","Wert":4680},{"Monat":"Sep","GWJ":"GWJ 17/18","Wert":4100},{"Monat":"Sep","GWJ":"GWJ 17/18","Wert":2450},{"Monat":"Sep","GWJ":"GWJ 17/18","Wert":2200},{"Monat":"Sep","GWJ":"GWJ 17/18","Wert":1330},{"Monat":"Sep","GWJ":"GWJ 17/18","Wert":1010},{"Monat":"Sep","GWJ":"GWJ 17/18","Wert":65},{"Monat":"Sep","GWJ":"GWJ 17/18","Wert":57},{"Monat":"Sep","GWJ":"GWJ 17/18","Wert":24.2},{"Monat":"Sep","GWJ":"GWJ 17/18","Wert":11.8},{"Monat":"Sep","GWJ":"GWJ 17/18","Wert":10}
    ]
  },
  "encoding": {
    "x": {
      "field": "Monat", "type": "nominal",
      "sort": ["Okt","Nov","Dez","Jan","Feb","Mrz","Apr","Mai","Jun","Jul","Aug","Sep"],
      "scale": {"range": [0, 1202], "paddingInner": 0, "paddingOuter": 0},
      "axis": {
        "title": null, "labelAngle": 0, "tickBand": "extent",
        "grid": true, "gridColor": "#d9d9d9", "gridWidth": 2,
        "domain": false, "ticks": true, "tickColor": "#d9d9d9", "tickWidth": 2, "tickSize": 8,
        "labelFontSize": 28, "labelColor": "#595959", "labelPadding": 13,
        "labelOffset": {"condition": {"test": "indexof(['Okt','Nov','Dez','Jan','Sep'], datum.value) >= 0", "value": -8}, "value": 8}
      }
    },
    "xOffset": {
      "field": "GWJ", "type": "nominal",
      "sort": ["GWJ 14/15","GWJ 15/16","GWJ 16/17","GWJ 17/18"],
      "scale": {"paddingInner": 0.2, "paddingOuter": 1.0}
    }
  },
  "layer": [
    {
      "data": {"name": "boxes"},
      "mark": {"type": "rule", "color": "#cbcbcb", "strokeWidth": 3},
      "encoding": {
        "y": {"field": "lo", "type": "quantitative",
          "scale": {"type": "log", "domain": [1, 1000000], "nice": false},
          "axis": {
            "title": "kumulierte absolute Netzkontoabweichung [kWh/MWh]",
            "values": [1, 10, 100, 1000, 10000, 100000, 1000000],
            "labelExpr": "replace(format(datum.value, ','), regexp(',', 'g'), '.')",
            "grid": true, "gridColor": "#d9d9d9", "gridWidth": 2,
            "ticks": false, "domain": false,
            "labelFontSize": 28, "labelColor": "#595959", "labelPadding": 26,
            "titleFontSize": 28, "titleFontWeight": "normal", "titleColor": "#595959", "titlePadding": 32
          }
        },
        "y2": {"field": "hi"}
      }
    },
    {
      "data": {"name": "boxes"},
      "mark": {"type": "tick", "color": "#9a9a9a", "size": 15, "thickness": 1.5},
      "encoding": {"y": {"field": "lo", "type": "quantitative"}}
    },
    {
      "data": {"name": "boxes"},
      "mark": {"type": "tick", "color": "#9a9a9a", "size": 15, "thickness": 1.5},
      "encoding": {"y": {"field": "hi", "type": "quantitative"}}
    },
    {
      "data": {"name": "outliers"},
      "mark": {"type": "circle", "size": 38, "opacity": 1},
      "encoding": {
        "y": {"field": "Wert", "type": "quantitative"},
        "color": {"field": "GWJ", "type": "nominal"}
      }
    },
    {
      "data": {"name": "boxes"},
      "mark": {"type": "bar", "stroke": "white", "strokeOpacity": 0.45, "strokeWidth": 1.5, "opacity": 1},
      "encoding": {
        "y": {"field": "q1", "type": "quantitative"},
        "y2": {"field": "q3"},
        "color": {
          "field": "GWJ", "type": "nominal",
          "scale": {"domain": ["GWJ 14/15","GWJ 15/16","GWJ 16/17","GWJ 17/18"], "range": ["#1c5591","#8db3e0","#e2662a","#fbbf8c"]},
          "legend": {
            "title": null, "orient": "none", "legendX": 50, "legendY": 849,
            "direction": "horizontal", "symbolType": "square", "symbolSize": 250,
            "symbolStrokeWidth": 0, "labelFontSize": 29, "labelColor": "#595959",
            "labelOffset": 4, "columnPadding": 109
          }
        }
      }
    },
    {
      "data": {"name": "boxes"},
      "mark": {"type": "tick", "color": "white", "opacity": 0.6, "size": 13, "thickness": 1.5},
      "encoding": {"y": {"field": "med", "type": "quantitative"}}
    }
  ]
}
